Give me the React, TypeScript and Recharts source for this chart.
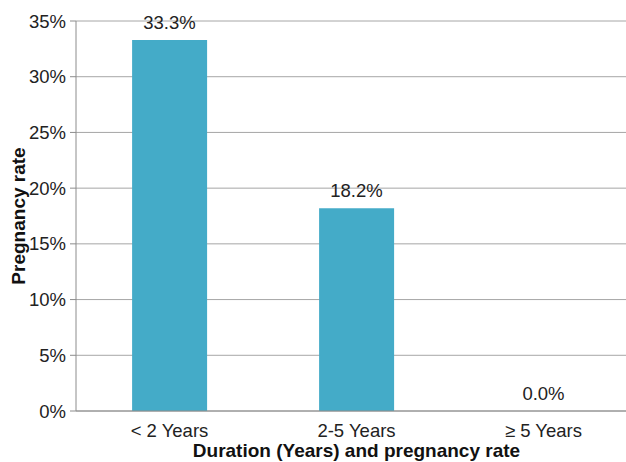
import { ComposedChart, Bar, Line, XAxis, YAxis, CartesianGrid, LabelList } from "recharts";

const categories = ["< 2 Years", "2-5 Years", "≥ 5 Years"];
const pregnancyRate = [33.3, 18.2, 0.0];
const yTicks = [0, 5, 10, 15, 20, 25, 30, 35];

const data = categories.map((name, i) => ({ name, rate: pregnancyRate[i] }));

const font = "'Liberation Sans', Arial, sans-serif";

export default function App() {
  return (
    <div style={{ position: "absolute", left: 0, top: 0, background: "#fff", fontFamily: font }}>
      <ComposedChart
        width={626}
        height={462}
        data={data}
        margin={{ top: 21, right: -11, bottom: 14, left: 0 }}
        barCategoryGap="30%"
      >
        <CartesianGrid vertical={false} stroke="#a6a6a6" strokeWidth={1} />
        <XAxis
          dataKey="name"
          axisLine={{ stroke: "#8c8c8c" }}
          tickLine={false}
          tick={{ fill: "#222", fontSize: 18.5, fontFamily: font }}
          tickMargin={7}
          height={37}
          label={{
            value: "Duration (Years) and pregnancy rate",
            position: "insideBottom",
            offset: -9,
            style: { fontWeight: "bold", fontSize: 19, fill: "#111", fontFamily: font },
          }}
        />
        <YAxis
          domain={[0, 35]}
          ticks={yTicks}
          interval={0}
          width={76}
          tickFormatter={(v) => `${v}%`}
          axisLine={{ stroke: "#8c8c8c" }}
          tickLine={{ stroke: "#8c8c8c" }}
          tickSize={6}
          tickMargin={4}
          tick={{ fill: "#222", fontSize: 18.5, fontFamily: font }}
          label={{
            value: "Pregnancy rate",
            angle: -90,
            position: "insideLeft",
            offset: 18,
            style: { textAnchor: "middle", fontWeight: "bold", fontSize: 19, fill: "#111", fontFamily: font },
          }}
        />
        <Bar dataKey="rate" fill="#44abc8" isAnimationActive={false} />
        {/* invisible line only carries the value labels, so the 0.0% one shows too */}
        <Line dataKey="rate" stroke="none" dot={false} activeDot={false} isAnimationActive={false} legendType="none">
          <LabelList
            dataKey="rate"
            position="top"
            offset={11}
            formatter={(v: any) => `${Number(v).toFixed(1)}%`}
            style={{ fill: "#222", fontSize: 18.5, fontFamily: font }}
          />
        </Line>
      </ComposedChart>
    </div>
  );
}
